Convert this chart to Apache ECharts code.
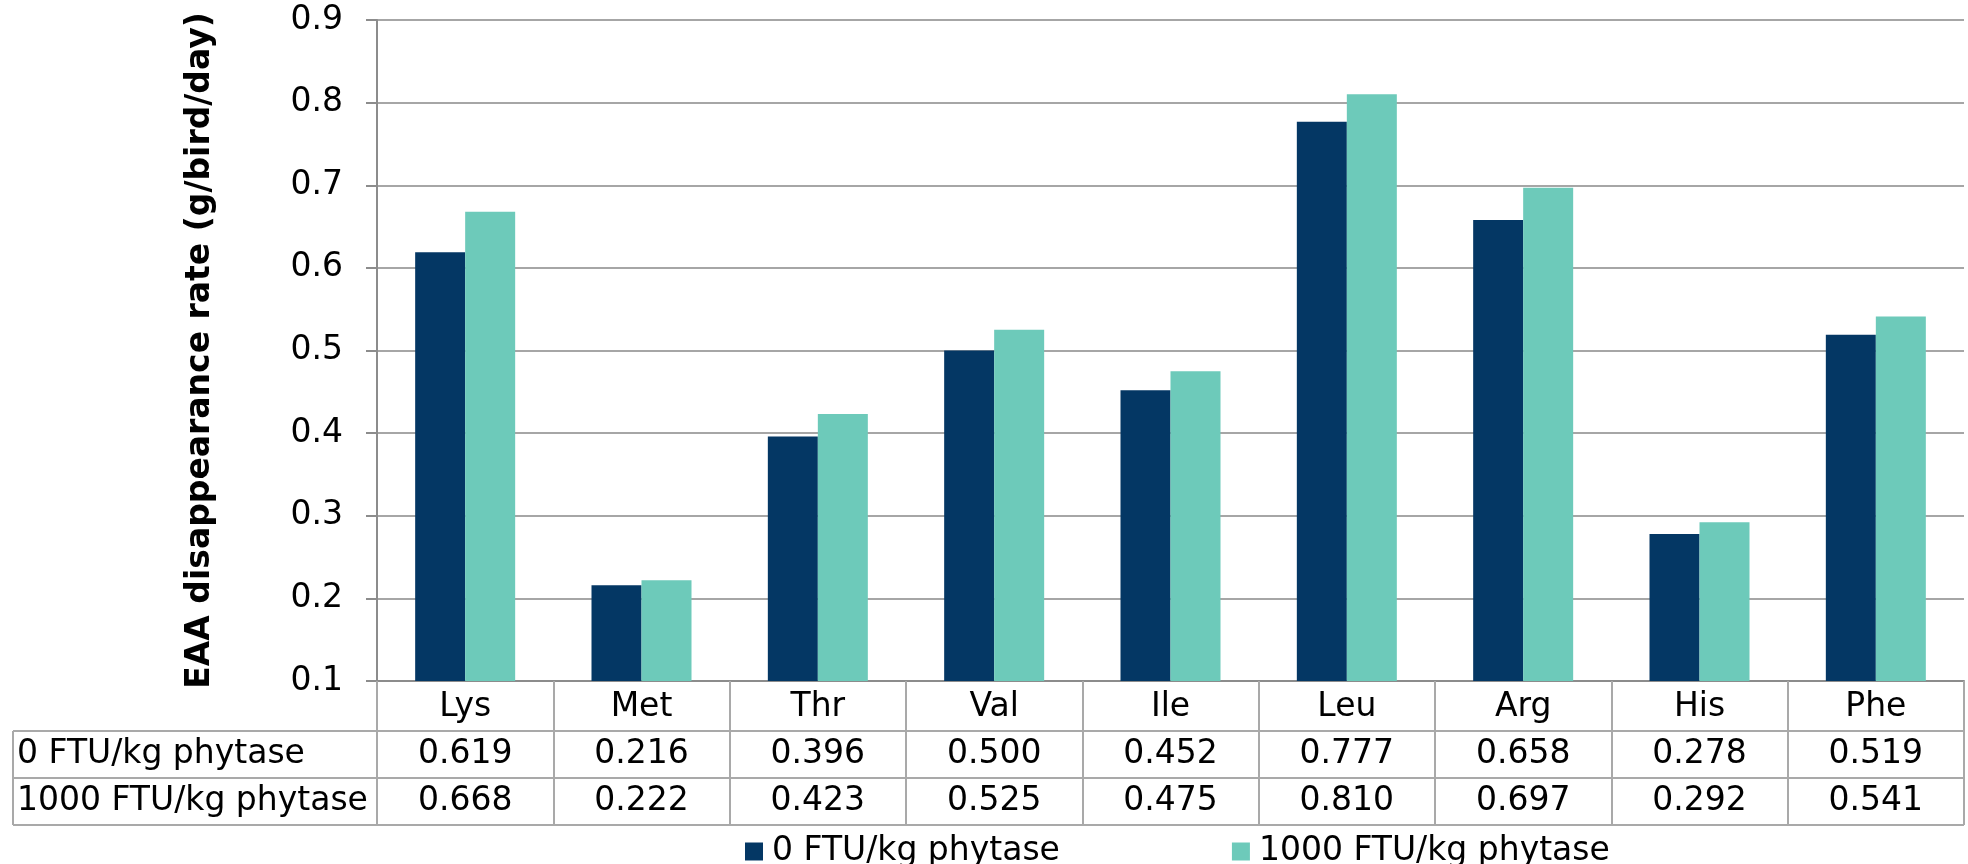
<!DOCTYPE html>
<html>
<head>
<meta charset="utf-8">
<script src="https://cdn.jsdelivr.net/npm/echarts@6/dist/echarts.min.js"></script>
<style>
  html, body { margin: 0; padding: 0; background: #fff; }
  #chart { width: 1968px; height: 864px; }
</style>
</head>
<body>
<div id="chart"></div>
<script>
// Essential amino acids
const categories = ['Lys', 'Met', 'Thr', 'Val', 'Ile', 'Leu', 'Arg', 'His', 'Phe'];
// Disappearance rate, g/bird/day
const noPhytase = [0.619, 0.216, 0.396, 0.500, 0.452, 0.777, 0.658, 0.278, 0.519];
const withPhytase = [0.668, 0.222, 0.423, 0.525, 0.475, 0.810, 0.697, 0.292, 0.541];
const seriesNames = ['0 FTU/kg phytase', '1000 FTU/kg phytase'];
const yTicks = { min: 0.1, max: 0.9, step: 0.1 };

const FONT = 'DejaVu Sans';
const FS = 33;
const DARK = '#043764';
const TEAL = '#6DCABA';
const LINE = '#a9a9a9';

// plot frame
const W = 1968;
const gridLeft = 377, gridRight = 4, gridTop = 20, axisY = 681;
const rowH = [50, 47, 47];           // header row, then two value rows
const tableLeft = 13;
const row1Top = axisY + rowH[0];
const row2Top = row1Top + rowH[1];
const tableBottom = row2Top + rowH[2];

const chart = echarts.init(document.getElementById('chart'), null, { renderer: 'canvas' });

const fmt3 = v => v.toFixed(3);

function valueRowAxis(values, offset, h) {
  return {
    type: 'category',
    gridIndex: 0,
    position: 'bottom',
    offset: offset,
    data: values.map(fmt3),
    axisLine: { show: false },
    axisTick: { show: false },
    axisLabel: {
      interval: 0, margin: 0, fontFamily: FONT, fontSize: FS, color: '#000',
      lineHeight: h, verticalAlign: 'top'
    }
  };
}

const hLine = (y) => ({
  type: 'line', silent: true,
  shape: { x1: tableLeft, y1: y, x2: W - gridRight, y2: y },
  style: { stroke: LINE, lineWidth: 2 }
});

const rowHeader = (text, top, h) => ({
  type: 'text', silent: true,
  x: tableLeft + 4, y: top + h / 2,
  style: { text: text, fontFamily: FONT, fontSize: FS, fill: '#000', verticalAlign: 'middle', align: 'left' }
});

chart.setOption({
  animation: false,
  backgroundColor: '#fff',
  grid: {
    left: gridLeft, right: gridRight, top: gridTop, bottom: 864 - axisY,
    containLabel: false
  },
  legend: {
    data: seriesNames,
    left: 740, top: 830,
    icon: 'rect', itemWidth: 18, itemHeight: 18, itemGap: 172,
    textStyle: { fontFamily: FONT, fontSize: FS, color: '#000', padding: [0, 0, 0, 4] }
  },
  xAxis: [
    {
      type: 'category',
      data: categories,
      axisLine: { show: true, lineStyle: { color: '#8c8c8c', width: 2 } },
      axisTick: {
        show: true, interval: 0, inside: false,
        length: tableBottom - axisY,
        lineStyle: { color: LINE, width: 2 }
      },
      axisLabel: {
        interval: 0, margin: 1, fontFamily: FONT, fontSize: FS, color: '#000',
        lineHeight: rowH[0], verticalAlign: 'top'
      }
    },
    valueRowAxis(noPhytase, rowH[0], rowH[1]),
    valueRowAxis(withPhytase, rowH[0] + rowH[1], rowH[2])
  ],
  yAxis: {
    type: 'value',
    min: yTicks.min, max: yTicks.max, interval: yTicks.step,
    name: 'EAA disappearance rate (g/bird/day)',
    nameLocation: 'middle',
    nameGap: 160,
    nameTextStyle: { fontFamily: FONT, fontSize: 33, fontWeight: 'bold', color: '#000' },
    axisLine: { show: true, lineStyle: { color: '#8c8c8c', width: 2 } },
    axisTick: { show: true, length: 11, lineStyle: { color: '#8c8c8c', width: 2 } },
    axisLabel: {
      margin: 34, fontFamily: FONT, fontSize: FS, color: '#000',
      formatter: v => v.toFixed(1)
    },
    splitLine: { show: true, lineStyle: { color: '#a6a6a6', width: 2 } }
  },
  series: [
    {
      name: seriesNames[0], type: 'bar', data: noPhytase,
      barWidth: 50, barGap: '0%',
      itemStyle: { color: DARK }
    },
    {
      name: seriesNames[1], type: 'bar', data: withPhytase,
      barWidth: 50, barGap: '0%',
      itemStyle: { color: TEAL }
    }
  ],
  graphic: [
    hLine(row1Top),
    hLine(row2Top),
    hLine(tableBottom),
    {
      type: 'line', silent: true,
      shape: { x1: tableLeft, y1: row1Top, x2: tableLeft, y2: tableBottom },
      style: { stroke: LINE, lineWidth: 2 }
    },
    rowHeader(seriesNames[0], row1Top, rowH[1]),
    rowHeader(seriesNames[1], row2Top, rowH[2])
  ]
});
</script>
</body>
</html>
